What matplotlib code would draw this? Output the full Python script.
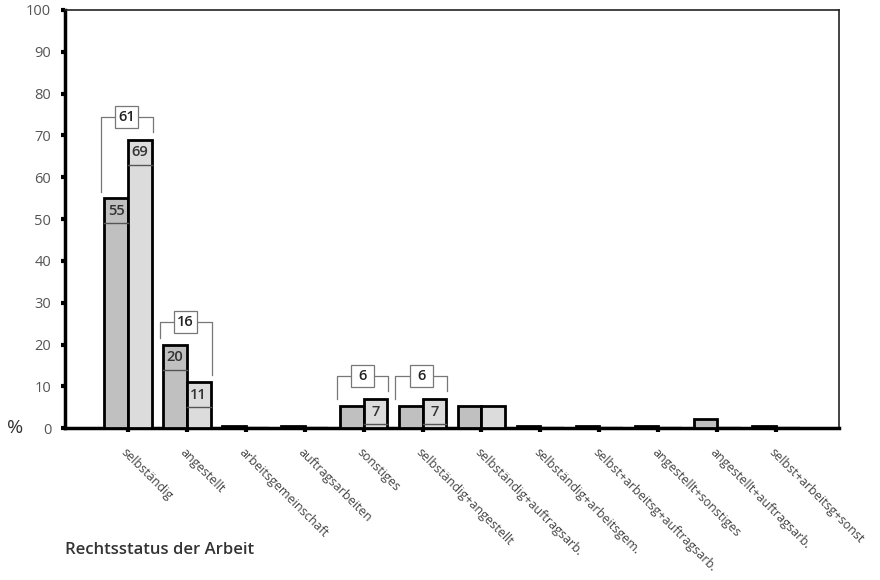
import matplotlib
matplotlib.use("Agg")
import matplotlib.pyplot as plt
from matplotlib.patches import Rectangle
import numpy as np

categories = ["selbständig", "angestellt", "arbeitsgemeinschaft", "auftragsarbeiten",
              "sonstiges", "selbständig+angestellt", "selbständig+auftragsarb.",
              "selbständig+arbeitsgem.", "selbst+arbeitsg+auftragsarb.",
              "angestellt+sonstiges", "angestellt+auftragsarb.", "selbst+arbeitsg+sonst"]
series_a = [55, 20, 0.6, 0.6, 5.4, 5.4, 5.4, 0.6, 0.6, 0.6, 2.1, 0.6]
series_b = [69, 11, 0, 0, 7, 7, 5.4, 0, 0, 0, 0, 0]
labels_a = ["55", "20", "", "", "", "", "", "", "", "", "", ""]
labels_b = ["69", "11", "", "", "7", "7", "", "", "", "", "", ""]
group_totals = {0: "61", 1: "16", 4: "6", 5: "6"}
yticks = [0, 10, 20, 30, 40, 50, 60, 70, 80, 90, 100]

plt.rcParams['font.family'] = ['Open Sans', 'DejaVu Sans']

fig = plt.figure(figsize=(8.8, 5.8), dpi=100)
ax = fig.add_axes([0.0739, 0.2616, 0.8795, 0.7212])

x = np.arange(len(categories))
w = 0.4
col_a = "#c0c0c0"
col_b = "#dcdcdc"

for xi, va, vb in zip(x, series_a, series_b):
    if va > 0:
        ax.bar(xi - w / 2, va, w, color=col_a, edgecolor="black", linewidth=2, zorder=3)
    if vb > 0:
        ax.bar(xi + w / 2, vb, w, color=col_b, edgecolor="black", linewidth=2, zorder=3)
    else:
        ax.plot([xi, xi + w], [0.25, 0.25], color="#e2e2e2", lw=1.5, zorder=2, solid_capstyle="butt")

band = 6.0
for xi, va, la in zip(x, series_a, labels_a):
    if la:
        ax.plot([xi - w, xi], [va - band, va - band], color="#555555", lw=1, zorder=4)
        ax.text(xi - w / 2, va - band / 2, la, ha="center", va="center", fontsize=10.5,
                color="#333333", fontweight="semibold", zorder=5)
for xi, vb, lb in zip(x, series_b, labels_b):
    if lb:
        ax.plot([xi, xi + w], [vb - band, vb - band], color="#555555", lw=1, zorder=4)
        ax.text(xi + w / 2, vb - band / 2, lb, ha="center", va="center", fontsize=10.5,
                color="#333333", fontweight="semibold", zorder=5)

# group brackets
for gi, txt in group_totals.items():
    va, vb = series_a[gi], series_b[gi]
    top = max(va, vb) + 5.5
    xl, xr = gi - 0.46, gi + 0.42
    ax.plot([xl, xl, xr, xr], [va + 1.5, top, top, vb + 1.8], color="#777777", lw=0.9, zorder=4)
    bw, bh = 0.39, 5.3
    ax.add_patch(Rectangle((gi - 0.02 - bw / 2, top - bh / 2), bw, bh, facecolor="white",
                           edgecolor="#777777", lw=0.9, zorder=5))
    ax.text(gi - 0.02, top, txt, ha="center", va="center", fontsize=10.5, color="#222222",
            fontweight="semibold", zorder=6)

ax.set_xlim(-1.07, 12.07)
ax.set_ylim(0, 100)
ax.set_yticks(yticks)
ax.set_yticklabels([str(t) for t in yticks], fontsize=10.5, color="#555555")
ax.set_xticks(x)
ax.set_xticklabels(categories, rotation=-45, ha="left", va="top", rotation_mode="anchor",
                   fontsize=9, color="#444444")
for lab in ax.get_xticklabels():
    lab.set_y(-0.015)
ax.tick_params(axis="y", length=3, width=3, direction="out", pad=7, color="black")
ax.tick_params(axis="x", length=3, width=3, direction="out", pad=5, color="black")

ax.spines["left"].set_linewidth(2.5)
ax.spines["bottom"].set_linewidth(2.5)
ax.spines["top"].set_linewidth(1.2)
ax.spines["right"].set_linewidth(1.2)
ax.spines["top"].set_color("#222222")
ax.spines["right"].set_color("#222222")

fig.text(0.008, 0.262, "%", fontsize=14, color="#333333", ha="left", va="center")
fig.text(0.074, 0.052, "Rechtsstatus der Arbeit", fontsize=12, color="#333333",
         fontweight="semibold", ha="left", va="center")

fig.savefig("out.png", dpi=100)
